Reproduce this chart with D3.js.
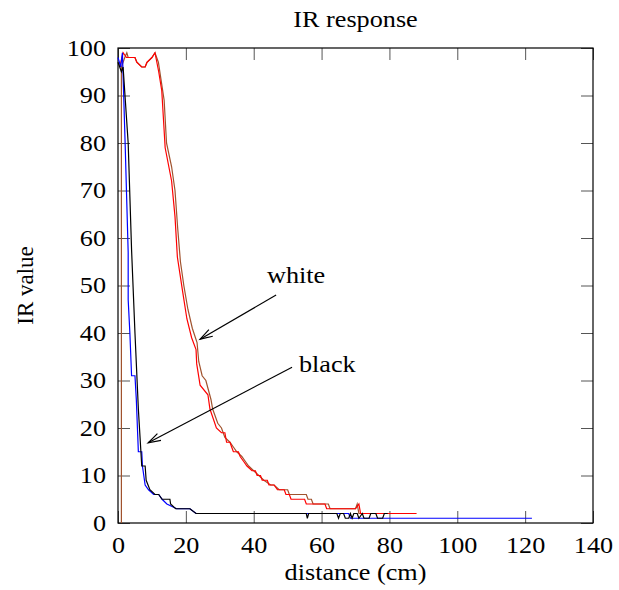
<!DOCTYPE html>
<html>
<head>
<meta charset="utf-8">
<script src="https://cdn.jsdelivr.net/npm/d3@7"></script>
<style>
  body { margin: 0; background: #fff; }
  text { font-family: "Liberation Serif", "DejaVu Serif", serif; fill: #000; }
</style>
</head>
<body>
<div id="chart"></div>
<script>
// IR sensor readings vs distance, two runs on a white and a black surface

// white surface, run 1 (red) and run 2 (brown)
var whiteRun1 = [[0.5,96],[1.5,99],[2.5,98],[5,98],[5.5,97],[7,96],[8,96],[8.5,97],[10,98],[10.9,99],
  [12,95],[12.9,91],[13.9,79],[15.8,72],[16.8,64.5],[17.5,56],[19.1,48.5],[20.3,43],[21.7,39],[23,36.5],
  [23.2,33.5],[24.2,29],[26.5,27],[27.1,24],[29,20],[30.5,19],[31.5,19],[32,17],[33,17],[33.5,16],
  [34,15],[35.5,15],[36,14],[37,13],[38,12],[39.5,11],[40.5,11],[41,10],[42,10],[42.5,9],[44,9],
  [44.5,8],[46,8],[47,7],[49,7],[49.5,6],[50.5,6],[51,5],[55,5],[55.5,4],[61,4],[61.5,3],[70,3],
  [71,4],[71.5,2],[88,2]];
var whiteRun2 = [[1,0],[1,96],[2,98],[2.6,99],[3,98],[5,98],[5.6,97],[7,96],[8,96],[8.6,97],[10,98],
  [10.9,99],[11.9,97],[13.6,89],[14.3,80],[15.8,75],[16.8,70],[17.6,62],[18.4,55],[19.4,50],[20.6,45],
  [21.9,41],[23.3,38],[23.8,34],[24.8,31],[25.9,30],[27.4,26],[27.9,24],[29.4,21],[30.5,20],[31.5,18],
  [33,17],[34,16],[35,15],[36.5,14],[37.5,13],[38.5,12],[40,11],[41.5,10],[43,9],[45,8],[46,8],
  [47.5,7],[50,7],[50.5,6],[55.5,6],[56,5],[57,5],[57.5,4],[62,4],[62.5,3],[70,3],[70.5,4],[71,2],[72,2]];

// black surface, run 1 (blue) and run 2 (black)
var blackRun1 = [[0,98],[0.8,96],[1.3,99],[2.1,80],[3,57],[3,47],[3.5,40],[4,31],[5,31],[5.4,26],
  [6,15],[7,15],[7.2,12],[8,8],[9,7],[10.5,6],[12,6],[13,5],[14.4,4],[17.3,3],[21.2,3],[23,2],
  [68,2],[68.5,1],[122,1]];
var blackRun2 = [[0,97],[1,95],[1.5,96],[3,80],[4,57.5],[5,40],[6,24],[7,12],[8,12],[8.3,9],[9.4,7],
  [10.9,6],[12,6],[13,5],[15.3,5],[15.5,4],[17,3],[21.2,3],[23,2],[55.5,2],[55.8,1],[56.2,2],
  [64.5,2],[65,1],[65.5,2],[66.5,2],[67,1],[68,1],[68.5,2],[69,1],[69.5,2],[70.5,2],[71,1],[72,2],
  [72.5,1],[74,1],[74.5,2],[76,2],[76.5,1],[78,1],[78.5,2],[79.5,2]];

var xTicks = [0, 20, 40, 60, 80, 100, 120, 140];
var yTicks = [0, 10, 20, 30, 40, 50, 60, 70, 80, 90, 100];

// annotations: label text, label position, arrow from -> to (data units)
var labels = [
  {text: "white", at: [52.5, 52.3], from: [46.6, 48], to: [24.2, 38.7]},
  {text: "black", at: [61.7, 33.4], from: [51.3, 32.8], to: [8.9, 16.9]}
];

var width = 619, height = 590;
var margin = {top: 48, right: 26, bottom: 67, left: 118};

var svg = d3.select("#chart").append("svg")
    .attr("width", width)
    .attr("height", height);

svg.append("rect").attr("width", width).attr("height", height).attr("fill", "#fff");

var x = d3.scaleLinear().domain([0, 140]).range([margin.left, width - margin.right]);
var y = d3.scaleLinear().domain([0, 100]).range([height - margin.bottom, margin.top]);

// the original text is a bit wider than plain Times, so stretch it sideways
var fs = "23px", stretch = 1.14;

function wide(sel) {
  sel.each(function() {
    var t = d3.select(this);
    var tx = +t.attr("x") || 0, ty = +t.attr("y") || 0;
    t.attr("x", 0).attr("y", 0)
     .attr("transform", "translate(" + tx + "," + ty + ") scale(" + stretch + ",1)");
  });
}

// ticks on all four sides, pointing inward
var tickLen = 12;
svg.append("g")
    .attr("transform", "translate(0," + y(0) + ")")
    .call(d3.axisBottom(x).tickValues(xTicks).tickSizeInner(-tickLen).tickSizeOuter(0).tickPadding(14))
    .call(function(g) { g.select(".domain").remove(); })
    .call(function(g) { g.selectAll("text").style("font-size", fs).call(wide); });
svg.append("g")
    .attr("transform", "translate(0," + y(100) + ")")
    .call(d3.axisTop(x).tickValues(xTicks).tickSizeInner(-tickLen).tickSizeOuter(0).tickFormat(""))
    .call(function(g) { g.select(".domain").remove(); });
svg.append("g")
    .attr("transform", "translate(" + x(0) + ",0)")
    .call(d3.axisLeft(y).tickValues(yTicks).tickSizeInner(-tickLen).tickSizeOuter(0).tickPadding(12))
    .call(function(g) { g.select(".domain").remove(); })
    .call(function(g) { g.selectAll("text").style("font-size", fs).call(wide); });
svg.append("g")
    .attr("transform", "translate(" + x(140) + ",0)")
    .call(d3.axisRight(y).tickValues(yTicks).tickSizeInner(-tickLen).tickSizeOuter(0).tickFormat(""))
    .call(function(g) { g.select(".domain").remove(); });

svg.selectAll(".tick line").attr("stroke", "#555");

// frame
svg.append("rect")
    .attr("x", x(0)).attr("y", y(100))
    .attr("width", x(140) - x(0)).attr("height", y(0) - y(100))
    .attr("fill", "none").attr("stroke", "#000").attr("stroke-width", 1.2);

// data lines
var line = d3.line()
    .x(function(d) { return x(d[0]); })
    .y(function(d) { return y(d[1]); });

var series = [
  {data: whiteRun2, color: "#a0522d"},
  {data: whiteRun1, color: "#ff0000"},
  {data: blackRun1, color: "#0000ff"},
  {data: blackRun2, color: "#000000"}
];

svg.append("g").selectAll("path")
  .data(series)
  .enter()
  .append("path")
    .attr("d", function(d) { return line(d.data); })
    .attr("fill", "none")
    .attr("stroke", function(d) { return d.color; })
    .attr("stroke-width", 1.2);

// arrows + labels
var head = 13, spread = 0.3;
labels.forEach(function(l) {
  var x1 = x(l.from[0]), y1 = y(l.from[1]), x2 = x(l.to[0]), y2 = y(l.to[1]);
  var a = Math.atan2(y2 - y1, x2 - x1);
  svg.append("line")
      .attr("x1", x1).attr("y1", y1).attr("x2", x2).attr("y2", y2)
      .attr("stroke", "#000").attr("stroke-width", 1.2);
  svg.append("path")
      .attr("d", "M" + (x2 - head * Math.cos(a - spread)) + "," + (y2 - head * Math.sin(a - spread)) +
                 "L" + x2 + "," + y2 +
                 "L" + (x2 - head * Math.cos(a + spread)) + "," + (y2 - head * Math.sin(a + spread)))
      .attr("fill", "none").attr("stroke", "#000").attr("stroke-width", 1.2);
  svg.append("text")
      .attr("x", x(l.at[0])).attr("y", y(l.at[1]))
      .attr("text-anchor", "middle")
      .attr("dominant-baseline", "central")
      .style("font-size", fs)
      .text(l.text)
      .call(wide);
});

// titles
svg.append("text")
    .attr("x", (x(0) + x(140)) / 2).attr("y", 27)
    .attr("text-anchor", "middle")
    .style("font-size", fs)
    .text("IR response")
    .call(wide);

svg.append("text")
    .attr("x", (x(0) + x(140)) / 2).attr("y", 580)
    .attr("text-anchor", "middle")
    .style("font-size", fs)
    .text("distance (cm)")
    .call(wide);

svg.append("text")
    .attr("transform", "translate(33," + y(50) + ") rotate(-90)")
    .attr("text-anchor", "middle")
    .style("font-size", fs)
    .text("IR value");
</script>
</body>
</html>
